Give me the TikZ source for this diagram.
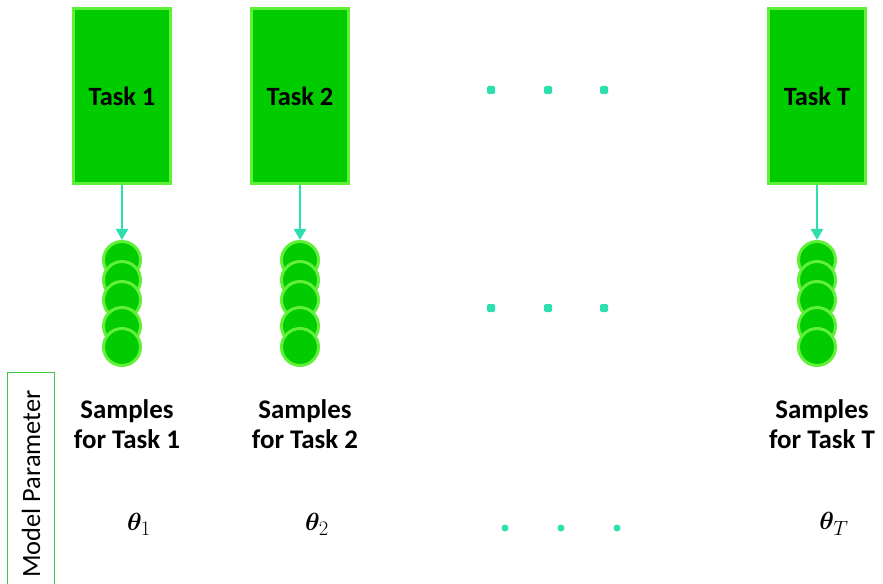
\documentclass[tikz,border=0pt]{standalone}
\usepackage[no-math]{fontspec}
\setmainfont{Carlito}
\usepackage{amsmath}
\usepackage{bm}
\usetikzlibrary{arrows.meta,shadows}

\definecolor{boxgreen}{RGB}{0,204,0}
\definecolor{rimgreen}{RGB}{95,240,55}
\definecolor{linkteal}{RGB}{45,222,175}
\definecolor{framegreen}{RGB}{60,200,60}

\tikzset{
	taskbox/.style={draw=rimgreen, line width=3bp, fill=boxgreen, minimum width=97bp, minimum height=174bp,
		inner sep=0pt, font=\bfseries\fontsize{26.5}{30}\selectfont,
		drop shadow={opacity=0.35, shadow xshift=1bp, shadow yshift=-2bp}},
	sample/.style={circle, draw=rimgreen, line width=3bp, fill=boxgreen, minimum size=37bp, inner sep=0pt},
	link/.style={draw=linkteal, line width=2.5bp, -{Triangle[width=12bp,length=11bp]}},
	caption/.style={align=center, font=\bfseries\fontsize{27}{30}\selectfont},
	param/.style={font=\fontsize{31}{34}\selectfont},
	dot/.style={fill=linkteal, rounded corners=1.5bp},
}

\begin{document}
\begin{tikzpicture}[x=1bp,y=-1bp]
	\useasboundingbox (0,0) rectangle (883,584);
	\clip (0,0) rectangle (883,584);

	% one column per task: box, arrow, stack of samples, caption, parameter
	\foreach \cx/\lab/\nm in {122/1/a,300/2/b,817/T/c} {
		\node[taskbox] (task\nm) at (\cx,96) {Task \lab};
		\foreach \k/\sy in {1/260,2/280,3/300,4/326,5/347} {
			\node[sample] (s\nm\k) at (\cx,\sy) {};
		}
		\draw[link] (task\nm.south) -- (s\nm1.north);
		\node[caption] (cap\nm) at (\cx+5,424) {Samples\\for Task \lab};
		\node[param] (th\nm) at (\cx+17,524) {$\boldsymbol{\theta}_{\lab}$};
	}

	% the gap between task 2 and task T
	\foreach \dx in {491,548,604} {
		\fill[dot] (\dx-4,86) rectangle (\dx+4,94);
		\fill[dot] (\dx-4,304) rectangle (\dx+4,312);
	}
	\foreach \dx in {505,561,617} {
		\fill[linkteal] (\dx,528) circle (3.5bp);
	}

	% side label
	\node[draw=framegreen, line width=1bp, rotate=90, minimum width=224bp, minimum height=47bp,
		inner sep=0pt, font=\fontsize{26.5}{30}\selectfont] (mp) at (31,484) {Model Parameter};
\end{tikzpicture}
\end{document}
